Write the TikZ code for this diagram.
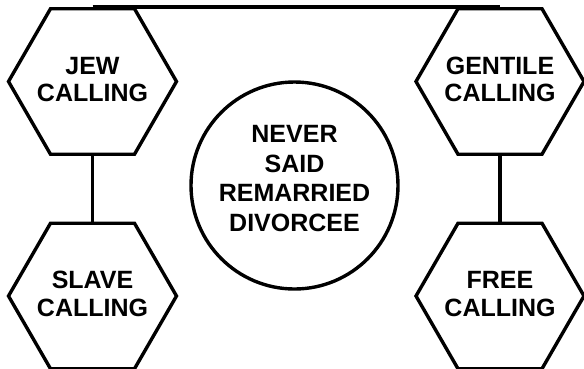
\documentclass[tikz,border=0pt]{standalone}
\usepackage{fontspec}
\setmainfont{Liberation Sans}
\usetikzlibrary{shapes.geometric}
\begin{document}
\begin{tikzpicture}[x=1pt,y=-1pt,
  hexbox/.style={draw=black, regular polygon, regular polygon sides=6, minimum size=168pt, inner sep=0pt, line width=3.4pt},
  circbox/.style={draw=black, circle, minimum size=207pt, inner sep=0pt, line width=3.4pt},
  link/.style={draw=black, line width=3.4pt},
  hexlbl/.style={align=center, inner sep=0pt, font=\fontsize{25}{27.5}\selectfont\bfseries},
  circlbl/.style={align=center, inner sep=0pt, font=\fontsize{25}{29.5}\selectfont\bfseries}]
\useasboundingbox (0,0) rectangle (584,368);
\node[hexbox] (jew) at (92.5,81.5) {};
\node[hexbox] (slave) at (92.5,296) {};
\node[hexbox] (gentile) at (500,81.5) {};
\node[hexbox] (free) at (500,296) {};
\node[circbox] (mid) at (294.5,185.5) {};
\draw[link] (jew.north) -- (gentile.north);
\draw[link] (slave.south) -- (free.south);
\draw[link] (jew.south) -- (slave.north);
\draw[link] (gentile.south) -- (free.north);
\node[hexlbl] (tjew) at ([yshift=2pt]jew.center) {JEW\\CALLING};
\node[hexlbl] (tslave) at ([yshift=2pt]slave.center) {SLAVE\\CALLING};
\node[hexlbl] (tgentile) at ([yshift=2pt]gentile.center) {GENTILE\\CALLING};
\node[hexlbl] (tfree) at ([yshift=2pt]free.center) {FREE\\CALLING};
\node[circlbl] (tmid) at ([yshift=7pt]mid.center) {NEVER\\SAID\\REMARRIED\\DIVORCEE};
\end{tikzpicture}
\end{document}
